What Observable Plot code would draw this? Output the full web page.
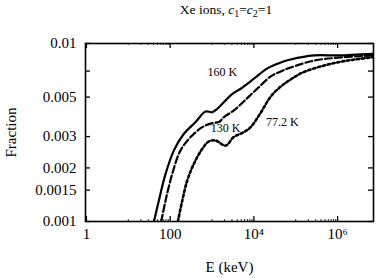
<!DOCTYPE html>
<html>
<head>
<meta charset="utf-8">
<script src="https://cdn.jsdelivr.net/npm/d3@7"></script>
<script src="https://cdn.jsdelivr.net/npm/@observablehq/plot@0.6"></script>
<style>
  html, body { margin: 0; padding: 0; background: #fff; }
  svg { display: block; }
  #chart svg, #chart svg text { font-family: "Liberation Serif", "Times New Roman", serif !important; }
</style>
</head>
<body>
<div id="chart"></div>
<script>
// ---- data ----
const titleParts = ["Xe ions, ", "c", "1", "=", "c", "2", "=1"];
const xLabel = "E (keV)";
const yLabel = "Fraction";
const xDomain = [0.95, 7.2e6];
const yDomain = [0.001, 0.01];
const xMajorTicks = [1, 100, 1e4, 1e6];
const xTickLabels = ["1", "100", "10\u2074", "10\u2076"];
const xMinorTicks = [10,20,30,40,50,60,70,80,90, 1000,2000,3000,4000,5000,6000,7000,8000,9000, 1e5,2e5,3e5,4e5,5e5,6e5,7e5,8e5,9e5];
const yTicks = [0.001, 0.0015, 0.002, 0.003, 0.005, 0.007, 0.01];
const yTickLabels = ["0.001", "0.0015", "0.002", "0.003", "0.005", "0.007", "0.01"];

const energy160 = [41, 53.7, 77.6, 123, 213, 405, 703, 1016, 1340, 2115, 3060, 4830, 10050, 21000, 43800, 75900, 274000, 995000, 7.2e6];
const fraction160 = [0.001, 0.00131, 0.00185, 0.00251, 0.00311, 0.00362, 0.00415, 0.00411, 0.0043, 0.00479, 0.00521, 0.00557, 0.00634, 0.00725, 0.00782, 0.00813, 0.00857, 0.00857, 0.00875];

const energy130 = [61.2, 77.6, 112, 177, 308, 586, 1016, 1463, 1930, 3340, 6370, 12100, 25200, 43800, 75900, 274000, 995000, 7.2e6];
const fraction130 = [0.001, 0.00131, 0.00185, 0.00251, 0.00298, 0.00339, 0.00357, 0.00362, 0.00386, 0.00421, 0.00484, 0.00558, 0.00653, 0.00697, 0.00733, 0.00802, 0.00832, 0.00857];

const energy77 = [153, 195, 256, 369, 586, 843, 1220, 2115, 3290, 5800, 8380, 14600, 25200, 43800, 75900, 145000, 475000, 1.43e6, 7.2e6];
const fraction77 = [0.001, 0.00131, 0.0017, 0.00211, 0.00256, 0.00282, 0.00285, 0.00267, 0.00298, 0.00318, 0.00339, 0.00409, 0.00503, 0.00573, 0.00628, 0.00687, 0.00752, 0.00796, 0.00838];

const curveLabels = ["160 K", "130 K", "77.2 K"];
const curveLabelE = [1763, 2115, 48100];
const curveLabelF = [0.0069, 0.00333, 0.00361];

// ---- build tables ----
const s160 = energy160.map((e, i) => ({E: e, F: fraction160[i]}));
const s130 = energy130.map((e, i) => ({E: e, F: fraction130[i]}));
const s77 = energy77.map((e, i) => ({E: e, F: fraction77[i]}));
const labels = curveLabels.map((t, i) => ({t, E: curveLabelE[i], F: curveLabelF[i]}));
const W = 377, H = 278, ML = 85, MR = 4, MT = 43, MB = 57;
const fw = W - ML - MR, fh = H - MT - MB;
const fmtX = d => xTickLabels[xMajorTicks.indexOf(d)];
const fmtY = d => yTickLabels[yTicks.indexOf(d)];
const serif = "Liberation Serif, Times New Roman, serif";

const svg = Plot.plot({
  width: W, height: H,
  marginLeft: ML, marginRight: MR, marginTop: MT, marginBottom: MB,
  style: {fontFamily: serif, fontSize: "15px", color: "#000", background: "#fff"},
  x: {type: "log", domain: xDomain},
  y: {type: "log", domain: yDomain},
  marks: [
    // tick labels and axis titles
    Plot.axisX(xMajorTicks, {tickSize: 0, tickPadding: 7, tickFormat: fmtX, label: xLabel, labelAnchor: "center", labelArrow: "none", labelOffset: 50, fontSize: 15, fontFamily: serif}),
    Plot.axisY(yTicks, {tickSize: 0, tickPadding: 9, tickFormat: fmtY, label: yLabel, labelAnchor: "center", labelArrow: "none", labelOffset: 80, fontSize: 15, fontFamily: serif}),
    // inward ticks
    Plot.tickY(yTicks, {y: d => d, insetRight: fw - 5, strokeWidth: 1.3}),
    Plot.tickY(yTicks, {y: d => d, insetLeft: fw - 5, strokeWidth: 1.3}),
    Plot.tickX(xMajorTicks, {x: d => d, insetTop: fh - 5, strokeWidth: 1.3}),
    Plot.tickX(xMajorTicks, {x: d => d, insetBottom: fh - 5, strokeWidth: 1.3}),
    Plot.tickX(xMinorTicks, {x: d => d, insetTop: fh - 2, strokeWidth: 0.8}),
    Plot.tickX(xMinorTicks, {x: d => d, insetBottom: fh - 2, strokeWidth: 0.8}),
    // curves
    Plot.line(s160, {x: "E", y: "F", stroke: "#000", strokeWidth: 2.2, curve: "catmull-rom", clip: true}),
    Plot.line(s130, {x: "E", y: "F", stroke: "#000", strokeWidth: 2.2, strokeDasharray: "7,3", curve: "catmull-rom", clip: true}),
    Plot.line(s77, {x: "E", y: "F", stroke: "#000", strokeWidth: 2.6, strokeDasharray: "2.4,2.6", curve: "catmull-rom", clip: true}),
    Plot.text(labels, {x: "E", y: "F", text: "t", fontSize: 12, fontFamily: serif, fill: "#000"}),
    Plot.frame({stroke: "#000", strokeWidth: 1.6})
  ]
});

// title with subscripts
const t = d3.select(svg).append("text")
  .attr("x", 226).attr("y", 14)
  .attr("text-anchor", "middle")
  .attr("font-size", 13.5)
  .attr("font-family", serif)
  .attr("fill", "#000");
t.append("tspan").text(titleParts[0]);
t.append("tspan").attr("font-style", "italic").text(titleParts[1]);
t.append("tspan").attr("font-size", 10).attr("dy", 3).text(titleParts[2]);
t.append("tspan").attr("dy", -3).text(titleParts[3]);
t.append("tspan").attr("font-style", "italic").text(titleParts[4]);
t.append("tspan").attr("font-size", 10).attr("dy", 3).text(titleParts[5]);
t.append("tspan").attr("dy", -3).text(titleParts[6]);

document.getElementById("chart").appendChild(svg);
</script>
</body>
</html>
